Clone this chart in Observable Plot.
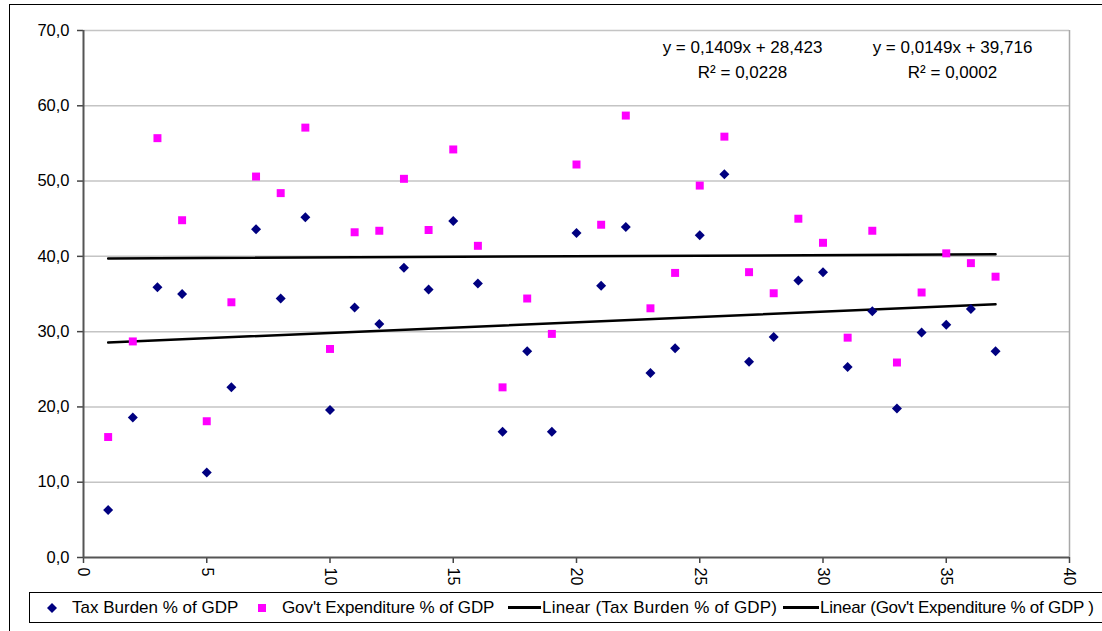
<!DOCTYPE html>
<html><head><meta charset="utf-8">
<script src="https://cdn.jsdelivr.net/npm/d3@7"></script>
<script src="https://cdn.jsdelivr.net/npm/@observablehq/plot@0.6"></script>
<style>
body{margin:0;background:#fff;width:1102px;height:631px;overflow:hidden;position:relative;font-family:"Liberation Sans",Arial,sans-serif;}
#frame{position:absolute;left:9px;top:4px;width:1120px;height:650px;border:1.5px solid #000;box-sizing:border-box;}
#chart{position:absolute;left:0;top:0;}
#legend{position:absolute;left:29px;top:592px;width:1100px;height:31px;border:1px solid #000;box-sizing:border-box;font-size:17px;color:#000;background:#fff;}
.item{position:absolute;top:0;height:29px;line-height:29px;white-space:nowrap;}
.sym{position:absolute;}
</style></head>
<body>
<div id="frame"></div>
<div id="chart"></div>
<div id="legend"></div>
<script>
// ---- data ----
const xValues = [1,2,3,4,5,6,7,8,9,10,11,12,13,14,15,16,17,18,19,20,21,22,23,24,25,26,27,28,29,30,31,32,33,34,35,36,37];
const taxBurden = [6.3,18.6,35.9,35.0,11.3,22.6,43.6,34.4,45.2,19.6,33.2,31.0,38.5,35.6,44.7,36.4,16.7,27.4,16.7,43.1,36.1,43.9,24.5,27.8,42.8,50.9,26.0,29.3,36.8,37.9,25.3,32.7,19.8,29.9,30.9,33.0,27.4];
const govtExpenditure = [16.0,28.7,55.7,44.8,18.1,33.9,50.6,48.4,57.1,27.7,43.2,43.4,50.3,43.5,54.2,41.4,22.6,34.4,29.7,52.2,44.2,58.7,33.1,37.8,49.4,55.9,37.9,35.1,45.0,41.8,29.2,43.4,25.9,35.2,40.4,39.1,37.3];
const seriesNames = ["Tax Burden % of GDP", "Gov't Expenditure % of GDP"];
const legendLabels = ["Tax Burden % of GDP", "Gov't Expenditure % of GDP", "Linear (Tax Burden % of GDP)", "Linear (Gov't Expenditure % of GDP )"];
const trendSlopes = [0.1409, 0.0149];
const trendIntercepts = [28.423, 39.716];
const trendEquations = ["y = 0,1409x + 28,423\nR² = 0,0228", "y = 0,0149x + 39,716\nR² = 0,0002"];
const yTicks = [0,10,20,30,40,50,60,70];
const xTicks = [0,5,10,15,20,25,30,35,40];

// ---- derived tables ----
const taxData = xValues.map((x,i) => ({x, y: taxBurden[i]}));
const govData = xValues.map((x,i) => ({x, y: govtExpenditure[i]}));
const xMin = d3.min(xValues), xMax = d3.max(xValues);
const trend = seriesNames.flatMap((s,i) => [xMin, xMax].map(x => ({series: s, x, y: trendSlopes[i]*x + trendIntercepts[i]})));
const fmt = d => d.toFixed(1).replace(".", ",");

const font = '"Liberation Sans", Arial, sans-serif';
const chart = Plot.plot({
  width: 1102, height: 592,
  marginLeft: 83, marginRight: 33, marginTop: 30, marginBottom: 35,
  style: {fontFamily: font, fontSize: "16px", color: "#000", background: "transparent", overflow: "visible"},
  x: {domain: [0, 40], label: null},
  y: {domain: [0, 70], label: null},
  marks: [
    Plot.ruleY(yTicks.slice(1), {stroke: "#c4c4c4", strokeWidth: 1.5}),
    Plot.ruleX([40], {stroke: "#a8a8a8", strokeWidth: 1.5}),
    Plot.axisY({ticks: yTicks, tickFormat: fmt, tickSize: 6, tickPadding: 8, fontSize: 16.5, stroke: "#444", strokeWidth: 1.5}),
    Plot.axisX({ticks: xTicks, tickRotate: 90, tickSize: 6, tickPadding: 4, fontSize: 16, stroke: "#444", strokeWidth: 1.5}),
    Plot.ruleX([0], {stroke: "#555", strokeWidth: 2}),
    Plot.ruleY([0], {stroke: "#555", strokeWidth: 2}),
    Plot.line(trend, {x: "x", y: "y", z: "series", stroke: "#000", strokeWidth: 2.5}),
    Plot.dot(taxData, {x: "x", y: "y", symbol: "diamond2", r: 4.5, fill: "#000080", stroke: "none"}),
    Plot.dot(govData, {x: "x", y: "y", symbol: "square", r: 4.5, fill: "#ff00ff", stroke: "none"}),
    Plot.text([trendEquations[0]], {text: d => d, frameAnchor: "top-left", dx: 659, dy: 5, textAnchor: "middle", lineAnchor: "top", lineHeight: 1.45, fontSize: 17, fill: "#000"}),
    Plot.text([trendEquations[1]], {text: d => d, frameAnchor: "top-left", dx: 869, dy: 5, textAnchor: "middle", lineAnchor: "top", lineHeight: 1.45, fontSize: 17, fill: "#000"})
  ]
});
document.getElementById("chart").appendChild(chart);

// ---- legend ----
const legend = document.getElementById("legend");
const L = 29;
const items = [
  {sym: `<svg width="10" height="10" style="left:${51-5-L}px;top:10px" class="sym"><path d="M5 0L10 5L5 10L0 5Z" fill="#000080"/></svg>`, tx: 71, ls: 0},
  {sym: `<svg width="8" height="8" style="left:${261-4-L}px;top:11px" class="sym"><rect width="8" height="8" fill="#ff00ff"/></svg>`, tx: 281, ls: -0.1},
  {sym: `<svg width="33" height="4" style="left:${507-L}px;top:13px" class="sym"><rect width="33" height="3" fill="#000"/></svg>`, tx: 541, ls: 0.2},
  {sym: `<svg width="36" height="4" style="left:${782-L}px;top:13px" class="sym"><rect width="36" height="3" fill="#000"/></svg>`, tx: 819, ls: -0.25}
];
items.forEach((it, i) => {
  legend.insertAdjacentHTML("beforeend", it.sym + `<div class="item" style="left:${it.tx - L}px;letter-spacing:${it.ls}px">${legendLabels[i]}</div>`);
});
</script>
</body></html>
